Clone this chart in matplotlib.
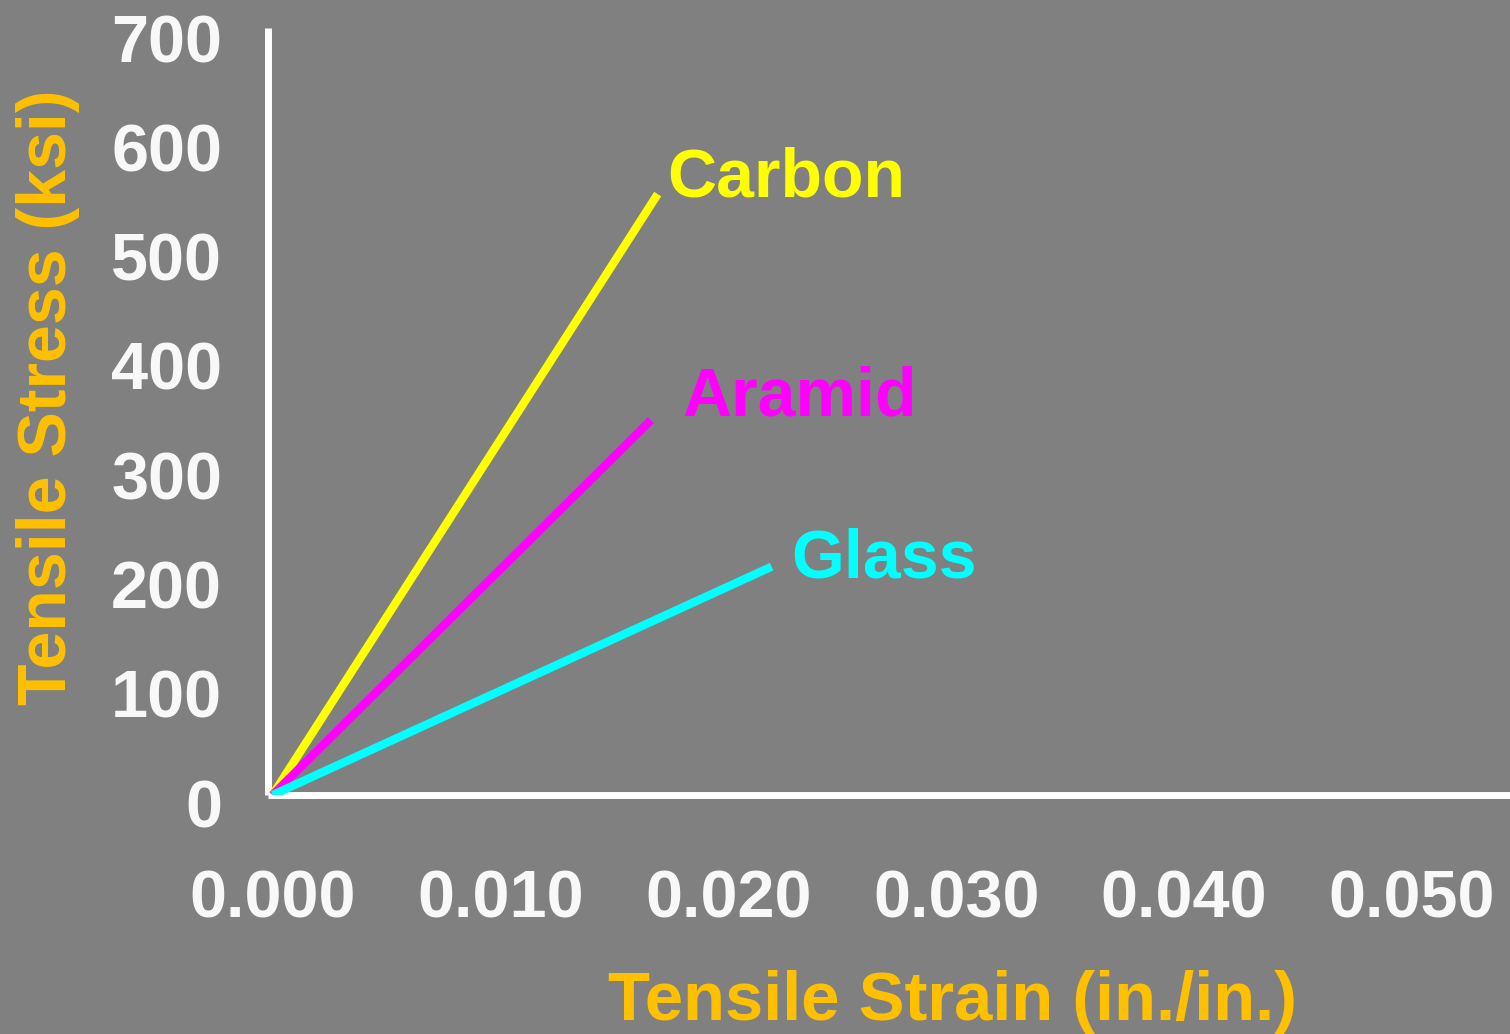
import matplotlib
matplotlib.use('Agg')
import matplotlib.pyplot as plt
import matplotlib.transforms as mtransforms

# datos: fibras, deformacion y tension de rotura
fibras = ['Carbon', 'Aramid', 'Glass']
deformacion = [0.0169, 0.0166, 0.0219]   # in./in.
tension = [550, 343, 209]                # ksi
colores = ['#FFFF00', '#FF00FF', '#00FFFF']

x_ticks = [0.000, 0.010, 0.020, 0.030, 0.040, 0.050]
y_ticks = [0, 100, 200, 300, 400, 500, 600, 700]

fondo = '#808080'
naranja = '#FFC000'
blanco = '#F8F8F8'

plt.rcParams['font.family'] = ['Liberation Sans', 'DejaVu Sans']
plt.rcParams['font.weight'] = 'bold'

fig = plt.figure(figsize=(15.1, 10.34), dpi=100, facecolor=fondo)
ax = fig.add_axes([268 / 1510, 239 / 1034, 1242 / 1510, 767 / 1034])
ax.set_facecolor(fondo)

# desplazamiento de cada etiqueta respecto del final de la linea (puntos)
offsets = [(7, -1.5), (23, 3.6), (14, -8)]

for nombre, x, y, c, off in zip(fibras, deformacion, tension, colores, offsets):
    ax.plot([0, x], [0, y], color=c, lw=6, solid_capstyle='butt', zorder=3)
    ax.annotate(nombre, xy=(x, y), xytext=off, textcoords='offset points',
                color=c, fontsize=49, fontweight='bold', ha='left', va='baseline')

ax.set_xlim(-0.0002, 0.0543)
ax.set_ylim(0, 702)
ax.set_xticks(x_ticks)
ax.set_xticklabels([f'{v:.3f}' for v in x_ticks])
ax.set_yticks(y_ticks)
ax.set_yticklabels([str(v) for v in y_ticks])

for lado in ['top', 'right']:
    ax.spines[lado].set_visible(False)
for lado in ['left', 'bottom']:
    ax.spines[lado].set_color('white')
    ax.spines[lado].set_linewidth(5)
    ax.spines[lado].set_capstyle('butt')

ax.tick_params(axis='both', length=0, colors=blanco, labelsize=48)
ax.tick_params(axis='y', pad=33)
ax.tick_params(axis='x', pad=54)

# las etiquetas del eje y estan un poco mas abajo que las marcas
desplazo = mtransforms.ScaledTranslation(0, -8 / 100, fig.dpi_scale_trans)
for lab in ax.get_yticklabels():
    lab.set_transform(lab.get_transform() + desplazo)

ax.set_xlabel('Tensile Strain (in./in.)', color=naranja, fontsize=49.5,
              fontweight='bold', va='baseline')
ax.xaxis.set_label_coords(0.5515, (795 - 1020) / 767)
ax.set_ylabel('Tensile Stress (ksi)', color=naranja, fontsize=49,
              fontweight='bold', va='baseline')
ax.yaxis.set_label_coords((66 - 268) / 1242, (795 - 397) / 767)

fig.savefig('out.png', dpi=100, facecolor=fondo)
